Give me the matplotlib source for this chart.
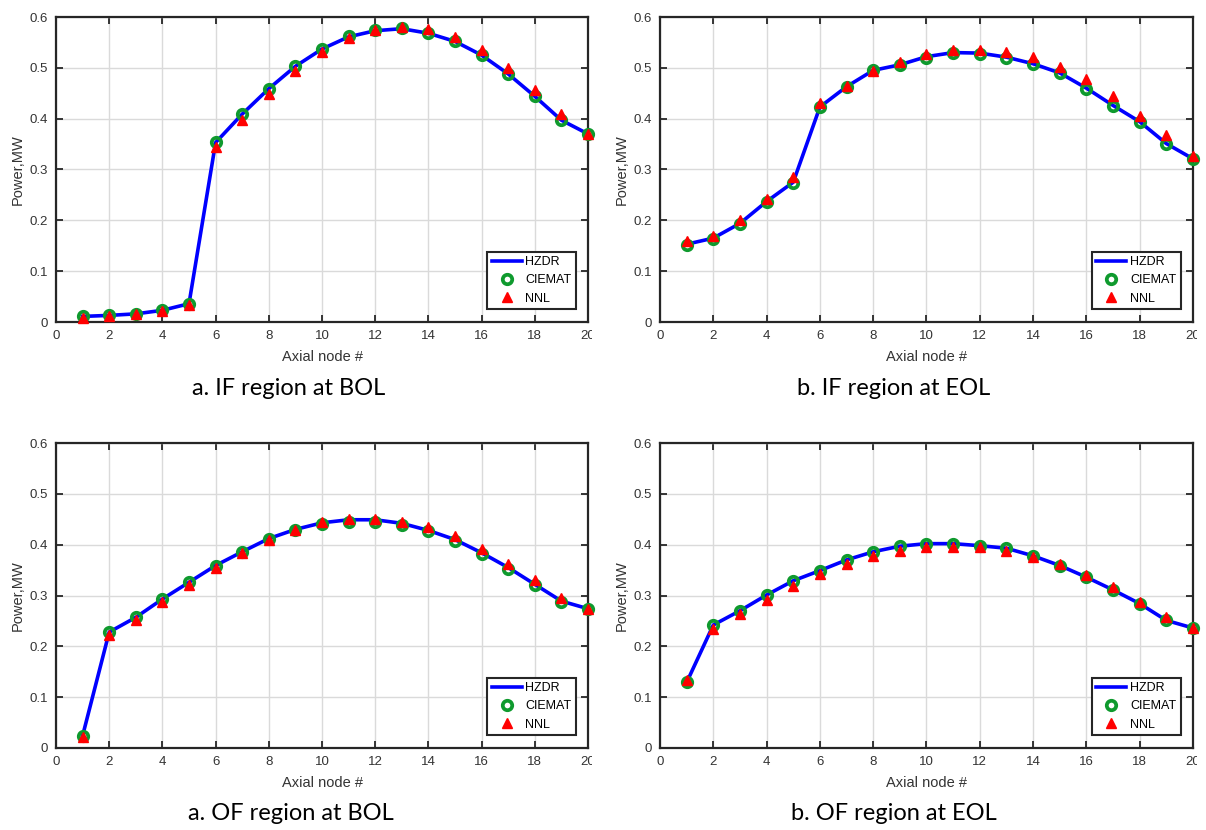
import numpy as np
import matplotlib
matplotlib.use("Agg")
import matplotlib.pyplot as plt
from matplotlib.transforms import Bbox, TransformedBbox

# axial nodes
nodes = np.arange(1, 21)

# IF region at BOL
if_bol_hzdr = [0.011, 0.013, 0.016, 0.023, 0.036, 0.353, 0.409, 0.459, 0.503, 0.537,
               0.561, 0.573, 0.577, 0.568, 0.552, 0.525, 0.488, 0.444, 0.397, 0.370]
if_bol_ciemat = [0.011, 0.013, 0.016, 0.023, 0.036, 0.354, 0.409, 0.459, 0.503, 0.537,
                 0.563, 0.575, 0.579, 0.568, 0.552, 0.525, 0.488, 0.444, 0.397, 0.370]
if_bol_nnl = [0.008, 0.011, 0.015, 0.021, 0.034, 0.344, 0.397, 0.448, 0.494, 0.532,
              0.558, 0.574, 0.580, 0.576, 0.561, 0.535, 0.499, 0.456, 0.409, 0.370]

# IF region at EOL
if_eol_hzdr = [0.153, 0.165, 0.194, 0.237, 0.275, 0.423, 0.463, 0.495, 0.506, 0.522,
               0.530, 0.529, 0.521, 0.508, 0.490, 0.460, 0.426, 0.394, 0.351, 0.321]
if_eol_ciemat = [0.152, 0.164, 0.193, 0.236, 0.273, 0.422, 0.463, 0.496, 0.505, 0.520,
                 0.529, 0.527, 0.520, 0.507, 0.489, 0.459, 0.425, 0.393, 0.350, 0.321]
if_eol_nnl = [0.160, 0.169, 0.200, 0.241, 0.285, 0.430, 0.465, 0.494, 0.512, 0.527,
              0.535, 0.535, 0.532, 0.522, 0.502, 0.478, 0.445, 0.406, 0.367, 0.327]

# OF region at BOL
of_bol_hzdr = [0.024, 0.228, 0.257, 0.293, 0.326, 0.359, 0.386, 0.412, 0.430, 0.443,
               0.449, 0.449, 0.442, 0.428, 0.410, 0.384, 0.355, 0.322, 0.289, 0.274]
of_bol_ciemat = [0.024, 0.228, 0.257, 0.293, 0.326, 0.359, 0.386, 0.412, 0.429, 0.440,
                 0.445, 0.445, 0.439, 0.426, 0.408, 0.382, 0.353, 0.320, 0.287, 0.274]
of_bol_nnl = [0.022, 0.223, 0.251, 0.287, 0.321, 0.354, 0.383, 0.409, 0.429, 0.444,
              0.450, 0.450, 0.445, 0.434, 0.417, 0.391, 0.362, 0.330, 0.296, 0.274]

# OF region at EOL
of_eol_hzdr = [0.129, 0.242, 0.270, 0.301, 0.329, 0.349, 0.370, 0.386, 0.397, 0.402,
               0.402, 0.398, 0.393, 0.378, 0.359, 0.336, 0.311, 0.284, 0.251, 0.236]
of_eol_ciemat = [0.129, 0.242, 0.270, 0.301, 0.329, 0.349, 0.370, 0.386, 0.397, 0.402,
                 0.401, 0.398, 0.393, 0.378, 0.359, 0.336, 0.311, 0.284, 0.251, 0.236]
of_eol_nnl = [0.133, 0.235, 0.263, 0.292, 0.318, 0.343, 0.362, 0.378, 0.388, 0.395,
              0.396, 0.395, 0.388, 0.375, 0.361, 0.341, 0.316, 0.287, 0.257, 0.236]

captions = ["a. IF region at BOL", "b. IF region at EOL",
            "a. OF region at BOL", "b. OF region at EOL"]
series = [(if_bol_hzdr, if_bol_ciemat, if_bol_nnl),
          (if_eol_hzdr, if_eol_ciemat, if_eol_nnl),
          (of_bol_hzdr, of_bol_ciemat, of_bol_nnl),
          (of_eol_hzdr, of_eol_ciemat, of_eol_nnl)]

tick_font = ["Liberation Sans Narrow", "Liberation Sans", "DejaVu Sans"]
cap_font = ["Lato", "Open Sans", "DejaVu Sans"]

W, H = 1206, 830
fig = plt.figure(figsize=(W / 100, H / 100), dpi=100)

# axes boxes in pixels: left, top, right, bottom  (+ where each sub-picture was cropped)
boxes = [(56, 17, 588, 322), (660, 17, 1193, 322),
         (56, 443, 588, 748), (660, 443, 1193, 748)]
crop_right = [592, 1197, 592, 1197]
cap_pos = [(289, 388), (894, 388), (291, 813), (894, 813)]

for k in range(4):
    l, t, r, b = boxes[k]
    ax = fig.add_axes([l / W, 1 - b / H, (r - l) / W, (b - t) / H])
    hz, ci, nn = series[k]
    ax.plot(nodes, hz, color="#0000ff", lw=2.6, label="HZDR", zorder=3)
    ax.plot(nodes, ci, ls="none", marker="o", ms=6.8, mfc="none", mec="#0f9a2e",
            mew=2.7, label="CIEMAT", zorder=4, clip_on=False)
    ax.plot(nodes, nn, ls="none", marker="^", ms=7, color="#ff0000",
            label="NNL", zorder=5, clip_on=False)

    ax.set_xlim(0, 20)
    ax.set_ylim(0, 0.6)
    ax.set_xticks(np.arange(0, 21, 2))
    ax.set_yticks(np.arange(0, 0.61, 0.1))
    ax.set_yticklabels(["0", "0.1", "0.2", "0.3", "0.4", "0.5", "0.6"])
    ax.grid(True, color="#dadada", lw=1.0)
    ax.set_axisbelow(True)
    ax.tick_params(direction="in", top=True, right=True, length=5, width=1.3,
                   labelsize=9.5, colors="#262626", labelcolor="#333333", pad=5.5)
    for lab in ax.get_xticklabels() + ax.get_yticklabels():
        lab.set_family(tick_font)
    for sp in ax.spines.values():
        sp.set_linewidth(1.6)
        sp.set_color("#262626")
    ax.set_xlabel("Axial node #", fontsize=10.5, family=tick_font, color="#333333", labelpad=6)
    ax.set_ylabel("Power,MW", fontsize=10.5, family=tick_font, color="#333333", labelpad=4)

    # the last x label is cut off at the edge of each sub-picture
    clip = TransformedBbox(Bbox([[0, 0], [crop_right[k] / W, 1]]), fig.transFigure)
    last = ax.get_xticklabels()[-1]
    last.set_clip_box(clip)
    last.set_clip_on(True)

    leg = ax.legend(loc="lower right", bbox_to_anchor=(0.977, 0.043), fancybox=False,
                    framealpha=1, edgecolor="#262626", borderpad=0.35, labelspacing=0.5,
                    handlelength=2.4, handletextpad=0.3, borderaxespad=0,
                    prop={"family": tick_font, "size": 9})
    leg.get_frame().set_linewidth(1.5)

    cx, cy = cap_pos[k]
    fig.text(cx / W, 1 - cy / H, captions[k], ha="center", va="center",
             fontsize=17, family=cap_font)

fig.savefig("out.png", dpi=100)
